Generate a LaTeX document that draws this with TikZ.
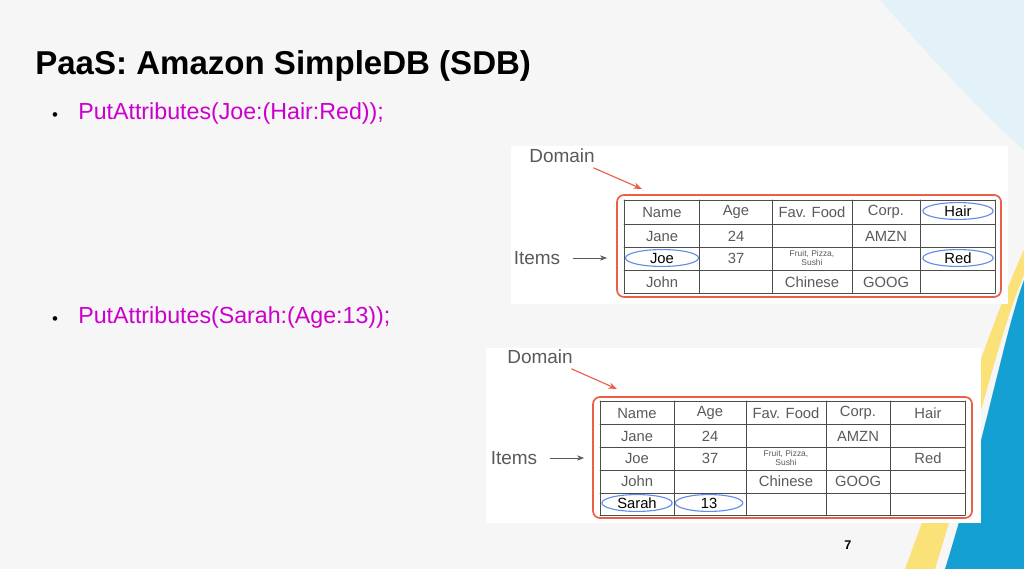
\documentclass[tikz,border=0pt]{standalone}
\usepackage{fontspec}
\setmainfont{Liberation Sans}
\usetikzlibrary{arrows.meta}
\definecolor{bgray}{RGB}{246,246,246}
\definecolor{magtext}{RGB}{204,0,204}
\definecolor{domred}{RGB}{235,95,70}
\definecolor{ovblue}{RGB}{100,140,230}
\definecolor{celltext}{RGB}{90,90,90}
\definecolor{deepblue}{RGB}{20,160,210}
\definecolor{paleblue}{RGB}{215,235,245}
\definecolor{sunyellow}{RGB}{250,225,120}
\tikzset{
  cell/.style={font=\fontsize{10.5}{12}\selectfont, text=celltext},
  small/.style={font=\fontsize{6}{6.5}\selectfont, text=celltext, align=center},
  pick/.style={draw=ovblue, thick, ellipse, inner sep=0pt, minimum width=#1, minimum height=12pt},
  label/.style={font=\fontsize{13.5}{15}\selectfont, text=celltext},
  grid/.style={gray!60!black, line width=0.7pt},
  bullet/.style={font=\fontsize{16.5}{19}\selectfont, text=magtext, anchor=west}
}
\usetikzlibrary{shapes.geometric}
\begin{document}
\begin{tikzpicture}[line cap=round, line join=round, x=0.025cm, y=-0.025cm]

  \fill[bgray] (0,0) rectangle (1024,569);
  \useasboundingbox (0,0) rectangle (1024,569);

  % right hand decoration
  \fill[paleblue!70] (880,0) .. controls (950,80) and (1000,130) .. (1024,150) -- (1024,0) -- cycle;
  \fill[sunyellow] (905,569) .. controls (960,420) and (1000,300) .. (1024,250) -- (1024,275) .. controls (1000,330) and (975,440) .. (935,569) -- cycle;
  \fill[deepblue] (945,569) .. controls (985,440) and (1005,330) .. (1024,280) -- (1024,569) -- cycle;

  % title and bullets
  \node[anchor=west, inner sep=0pt, font=\bfseries\fontsize{23.5}{27}\selectfont] (title) at (35,66) {PaaS: Amazon SimpleDB (SDB)};
  \node[font=\fontsize{12}{12}\selectfont] (d1) at (55,117) {\textbullet};
  \node[bullet, inner sep=0pt] (b1) at (78,114) {PutAttributes(Joe:(Hair:Red));};
  \node[font=\fontsize{12}{12}\selectfont] (d2) at (55,321) {\textbullet};
  \node[bullet, inner sep=0pt] (b2) at (78,318) {PutAttributes(Sarah:(Age:13));};
  \node[font=\bfseries\fontsize{9}{10}\selectfont] (page) at (848,545) {7};

  % first domain
  \fill[white] (511,146) rectangle (1008,304);
  \draw[domred, line width=1.2pt, rounded corners=5pt] (617,195) rectangle (1001,297);
  \foreach \x in {624,699,772,852,920,995} \draw[grid] (\x,200) -- (\x,293);
  \foreach \y in {200,224,247,270,293} \draw[grid] (624,\y) -- (995,\y);
  \node[label] (dom1) at (562,156) {Domain};
  \node[label] (items1) at (537,258) {Items};
  \coordinate (dom1tip) at (642,189);
  \coordinate (items1tip) at (607,258);
  \draw[domred, thick, -{Stealth[length=6pt]}] (dom1.south east) ++(-6,0) -- (dom1tip);
  \draw[celltext, -{Stealth[length=5pt]}] (items1.east) ++(8,0) -- (items1tip);
  \node[cell] (n1) at (662,212) {Name};
  \node[cell] (a1) at (736,212) {Age};
  \node[cell] (f1) at (812,212) {Fav. Food};
  \node[cell] (c1) at (886,212) {Corp.};
  \node[cell, text=black, pick=50pt] (h1) at (958,211) {Hair};
  \node[cell] at (662,236) {Jane};
  \node[cell] at (736,236) {24};
  \node[cell] at (886,236) {AMZN};
  \node[cell, text=black, pick=52pt] (joe1) at (662,258) {Joe};
  \node[cell] at (736,258) {37};
  \node[small] at (812,258) {Fruit, Pizza,\\Sushi};
  \node[cell, text=black, pick=50pt] (red1) at (958,258) {Red};
  \node[cell] at (662,282) {John};
  \node[cell] at (812,282) {Chinese};
  \node[cell] at (886,282) {GOOG};

  % second domain
  \fill[white] (486,348) rectangle (981,523);
  \draw[domred, line width=1.2pt, rounded corners=5pt] (593,397) rectangle (972,518);
  \foreach \x in {600,674,746,826,890,965} \draw[grid] (\x,401) -- (\x,515);
  \foreach \y in {401,424,447,470,493,515} \draw[grid] (600,\y) -- (965,\y);
  \node[label] (dom2) at (540,357) {Domain};
  \node[label] (items2) at (514,458) {Items};
  \coordinate (dom2tip) at (617,389);
  \coordinate (items2tip) at (584,458);
  \draw[domred, thick, -{Stealth[length=6pt]}] (dom2.south east) ++(-6,0) -- (dom2tip);
  \draw[celltext, -{Stealth[length=5pt]}] (items2.east) ++(8,0) -- (items2tip);
  \node[cell] at (637,413) {Name};
  \node[cell] at (710,413) {Age};
  \node[cell] at (786,413) {Fav. Food};
  \node[cell] at (858,413) {Corp.};
  \node[cell] at (928,413) {Hair};
  \node[cell] at (637,436) {Jane};
  \node[cell] at (710,436) {24};
  \node[cell] at (858,436) {AMZN};
  \node[cell] at (637,458) {Joe};
  \node[cell] at (710,458) {37};
  \node[small] at (786,458) {Fruit, Pizza,\\Sushi};
  \node[cell] at (928,458) {Red};
  \node[cell] at (637,481) {John};
  \node[cell] at (786,481) {Chinese};
  \node[cell] at (858,481) {GOOG};
  \node[cell, text=black, pick=50pt] (sarah2) at (637,503) {Sarah};
  \node[cell, text=black, pick=48pt] (age2) at (709,503) {13};

\end{tikzpicture}
\end{document}
